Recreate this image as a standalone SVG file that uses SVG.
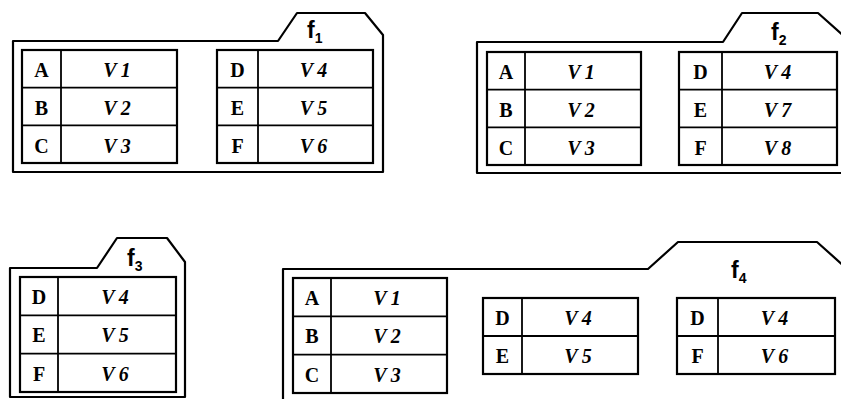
<svg xmlns="http://www.w3.org/2000/svg" width="841" height="399" viewBox="0 0 841 399">
  <style>
    .folder { fill: none; stroke: #000; stroke-width: 2.2; stroke-linejoin: round; }
    .tbl { fill: none; stroke: #000; stroke-width: 2.2; }
    .grid { stroke: #000; stroke-width: 1.8; }
    .key { font-family: "Liberation Serif", serif; font-weight: bold; font-size: 20px; text-anchor: middle; }
    .val { font-family: "Liberation Serif", serif; font-weight: bold; font-style: italic; font-size: 20px; letter-spacing: 4px; text-anchor: middle; }
    .name { font-family: "Liberation Sans", sans-serif; font-weight: bold; font-size: 23px; }
    .sub { font-family: "Liberation Sans", sans-serif; font-weight: bold; font-size: 14px; }
  </style>
  <rect width="841" height="399" fill="#fff"/>

  <!-- f1 -->
  <g id="f1">
    <path class="folder" d="M13,41 L278,41 L297,13 L365,13 L383,35 L383,172 L13,172 Z"/>
    <text class="name" x="307" y="38">f<tspan class="sub" dy="5">1</tspan></text>
    <g id="f1-abc">
      <rect class="tbl" x="22" y="50" width="155" height="113"/>
      <line class="grid" x1="61" y1="50" x2="61" y2="163"/>
      <line class="grid" x1="22" y1="87.7" x2="177" y2="87.7"/>
      <line class="grid" x1="22" y1="125.3" x2="177" y2="125.3"/>
      <text class="key" x="41.5" y="77">A</text><text class="val" x="119" y="77">V1</text>
      <text class="key" x="41.5" y="114.5">B</text><text class="val" x="119" y="114.5">V2</text>
      <text class="key" x="41.5" y="152.5">C</text><text class="val" x="119" y="152.5">V3</text>
    </g>
    <g id="f1-def">
      <rect class="tbl" x="217" y="50" width="156" height="113"/>
      <line class="grid" x1="258" y1="50" x2="258" y2="163"/>
      <line class="grid" x1="217" y1="87.7" x2="373" y2="87.7"/>
      <line class="grid" x1="217" y1="125.3" x2="373" y2="125.3"/>
      <text class="key" x="237.5" y="77">D</text><text class="val" x="315.5" y="77">V4</text>
      <text class="key" x="237.5" y="114.5">E</text><text class="val" x="315.5" y="114.5">V5</text>
      <text class="key" x="237.5" y="152.5">F</text><text class="val" x="315.5" y="152.5">V6</text>
    </g>
  </g>

  <!-- f2 -->
  <g id="f2">
    <path class="folder" d="M477,42 L723,42 L742,13 L818,13 L845,37 L845,173 L477,173 Z"/>
    <text class="name" x="771" y="40">f<tspan class="sub" dy="5">2</tspan></text>
    <g id="f2-abc">
      <rect class="tbl" x="487" y="52" width="154" height="113"/>
      <line class="grid" x1="525" y1="52" x2="525" y2="165"/>
      <line class="grid" x1="487" y1="89.7" x2="641" y2="89.7"/>
      <line class="grid" x1="487" y1="127.3" x2="641" y2="127.3"/>
      <text class="key" x="506" y="79">A</text><text class="val" x="583" y="79">V1</text>
      <text class="key" x="506" y="116.5">B</text><text class="val" x="583" y="116.5">V2</text>
      <text class="key" x="506" y="154.5">C</text><text class="val" x="583" y="154.5">V3</text>
    </g>
    <g id="f2-def">
      <rect class="tbl" x="679" y="52" width="158" height="113"/>
      <line class="grid" x1="722" y1="52" x2="722" y2="165"/>
      <line class="grid" x1="679" y1="89.7" x2="837" y2="89.7"/>
      <line class="grid" x1="679" y1="127.3" x2="837" y2="127.3"/>
      <text class="key" x="700.5" y="79">D</text><text class="val" x="779.5" y="79">V4</text>
      <text class="key" x="700.5" y="116.5">E</text><text class="val" x="779.5" y="116.5">V7</text>
      <text class="key" x="700.5" y="154.5">F</text><text class="val" x="779.5" y="154.5">V8</text>
    </g>
  </g>

  <!-- f3 -->
  <g id="f3">
    <path class="folder" d="M10,268 L97,268 L117,238 L167,238 L185,262 L185,397 L10,397 Z"/>
    <text class="name" x="127" y="266">f<tspan class="sub" dy="5">3</tspan></text>
    <g id="f3-def">
      <rect class="tbl" x="20" y="277" width="156" height="115"/>
      <line class="grid" x1="58" y1="277" x2="58" y2="392"/>
      <line class="grid" x1="20" y1="315.3" x2="176" y2="315.3"/>
      <line class="grid" x1="20" y1="353.7" x2="176" y2="353.7"/>
      <text class="key" x="39" y="304">D</text><text class="val" x="117" y="304">V4</text>
      <text class="key" x="39" y="342">E</text><text class="val" x="117" y="342">V5</text>
      <text class="key" x="39" y="380.5">F</text><text class="val" x="117" y="380.5">V6</text>
    </g>
  </g>

  <!-- f4 -->
  <g id="f4">
    <path class="folder" d="M283,269 L648,269 L678,242 L817,242 L845,267 L845,410 L283,410 Z"/>
    <text class="name" x="731" y="278">f<tspan class="sub" dy="5">4</tspan></text>
    <g id="f4-abc">
      <rect class="tbl" x="293" y="278" width="154" height="115"/>
      <line class="grid" x1="331" y1="278" x2="331" y2="393"/>
      <line class="grid" x1="293" y1="316.3" x2="447" y2="316.3"/>
      <line class="grid" x1="293" y1="354.7" x2="447" y2="354.7"/>
      <text class="key" x="312" y="305">A</text><text class="val" x="389" y="305">V1</text>
      <text class="key" x="312" y="343">B</text><text class="val" x="389" y="343">V2</text>
      <text class="key" x="312" y="381.5">C</text><text class="val" x="389" y="381.5">V3</text>
    </g>
    <g id="f4-de">
      <rect class="tbl" x="483" y="298" width="155" height="76"/>
      <line class="grid" x1="522" y1="298" x2="522" y2="374"/>
      <line class="grid" x1="483" y1="336" x2="638" y2="336"/>
      <text class="key" x="502.5" y="325">D</text><text class="val" x="580" y="325">V4</text>
      <text class="key" x="502.5" y="363">E</text><text class="val" x="580" y="363">V5</text>
    </g>
    <g id="f4-df">
      <rect class="tbl" x="677" y="298" width="158" height="76"/>
      <line class="grid" x1="718" y1="298" x2="718" y2="374"/>
      <line class="grid" x1="677" y1="336" x2="835" y2="336"/>
      <text class="key" x="697.5" y="325">D</text><text class="val" x="776.5" y="325">V4</text>
      <text class="key" x="697.5" y="363">F</text><text class="val" x="776.5" y="363">V6</text>
    </g>
  </g>
</svg>
